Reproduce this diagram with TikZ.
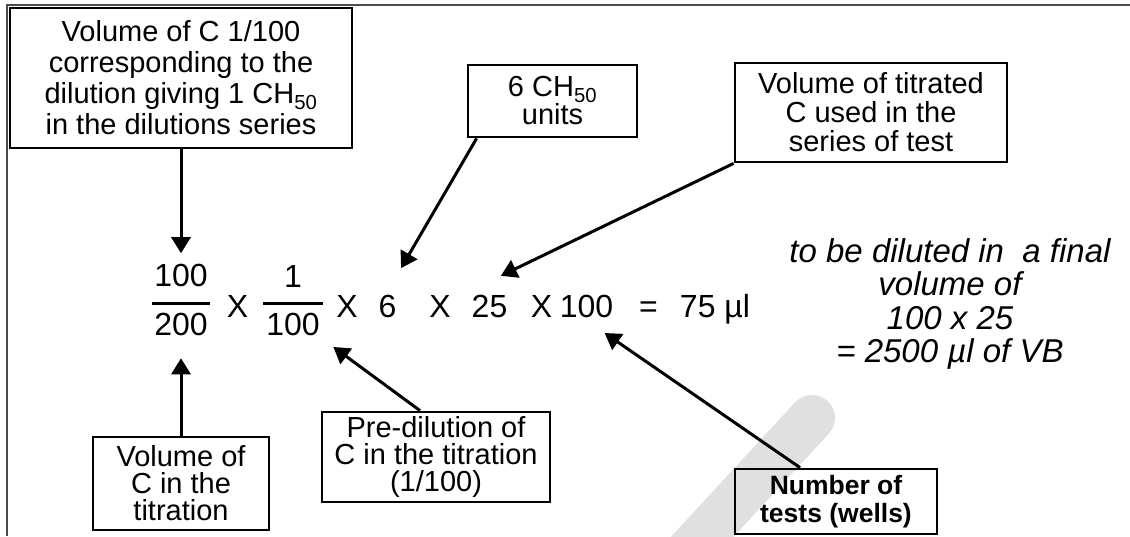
\documentclass[tikz,border=0pt]{standalone}
\usepackage{fontspec}
\setmainfont{Liberation Sans}
\usetikzlibrary{positioning, arrows.meta}

\newcommand{\chfifty}{CH\textsubscript{50}}

\begin{document}
\begin{tikzpicture}[x=1pt, y=-1pt,
  lbl/.style={draw, line width=2.8pt, align=center, inner sep=0pt},
  eqn/.style={inner sep=3pt, font=\fontsize{32}{32}\selectfont},
  fbar/.style={fill, inner sep=0pt, minimum height=3pt},
  ptr/.style={-{Triangle[length=16pt, width=19pt]}, line width=3pt},
  note/.style={align=center, font=\fontsize{33}{33.5}\selectfont\itshape}]
   \useasboundingbox (0,0) rectangle (1130,536);
   % Watermark band and frame
   \draw[black!12, line width=46pt, line cap=round] (812,418) -- (690,550);
   \draw[black!70, line width=1.2pt] (1130,5) -- (7,5) -- (7,536);

   % Boxes above the formula
   \node[lbl, minimum width=342pt, minimum height=140pt, font=\fontsize{29}{31}\selectfont] (volbox) at (181,78)
      {Volume of C 1/100\\corresponding to the\\dilution giving 1 \chfifty\\in the dilutions series};
   \node[lbl, minimum width=169pt, minimum height=72pt, font=\fontsize{29}{28}\selectfont] (unitbox) at (552.5,101)
      {6 \chfifty\\units};
   \node[lbl, minimum width=272pt, minimum height=99pt, font=\fontsize{29}{29}\selectfont] (titbox) at (871,112.5)
      {Volume of titrated\\C used in the\\series of test};

   % Boxes below the formula
   \node[lbl, minimum width=176pt, minimum height=93pt, font=\fontsize{29}{27}\selectfont] (vcbox) at (181,483.5)
      {Volume of\\C in the\\titration};
   \node[lbl, minimum width=228pt, minimum height=90pt, font=\fontsize{29}{27}\selectfont] (prebox) at (436,457)
      {Pre-dilution of\\C in the titration\\(1/100)};
   \node[lbl, minimum width=202pt, minimum height=65pt, font=\fontsize{26.5}{28}\selectfont\bfseries] (testbox) at (836,501.5)
      {Number of\\tests (wells)};

   % The formula
   \node[fbar, minimum width=58pt] (bar1) at (181,303) {};
   \node[eqn, above=11pt of bar1] (num1) {100};
   \node[eqn, below=5.5pt of bar1] (den1) {200};
   \node[eqn, anchor=base] (x1) at (237.5,317) {X};
   \node[fbar, minimum width=60pt] (bar2) at (293,303) {};
   \node[eqn, above=11pt of bar2] (num2) {1};
   \node[eqn, below=5.5pt of bar2] (den2) {100};
   \node[eqn, anchor=base] (x2) at (347,317) {X};
   \node[eqn, anchor=base] (six) at (387.5,317) {6};
   \node[eqn, anchor=base] (x3) at (440,317) {X};
   \node[eqn, anchor=base] (tf) at (489.5,317) {25};
   \node[eqn, anchor=base] (x4) at (541.5,317) {X};
   \node[eqn, anchor=base] (hund) at (586.5,317) {100};
   \node[eqn, anchor=base] (eqs) at (648.5,317) {=};
   \node[eqn, anchor=base] (res) at (715,317) {75 µl};

   \node[note] (dil) at (950,304) {to be diluted in~~a final\\volume of\\100 x 25\\= 2500 µl of VB};

   % Pointers
   \draw[ptr, shorten >=8pt] (volbox) -- (num1);
   \draw[ptr, shorten >=27pt] ([xshift=10pt]unitbox.south west) -- (six.north);
   \draw[ptr, shorten >=36pt] (titbox.south west) -- (tf.north west);
   \draw[ptr, shorten >=19pt] (vcbox.north) -- (den1.south);
   \draw[ptr, shorten >=13pt] ([xshift=-16pt]prebox.north) -- (den2.south east);
   \draw[ptr, shorten >=22pt] ([xshift=-36pt]testbox.north) -- (hund.south);
\end{tikzpicture}
\end{document}
